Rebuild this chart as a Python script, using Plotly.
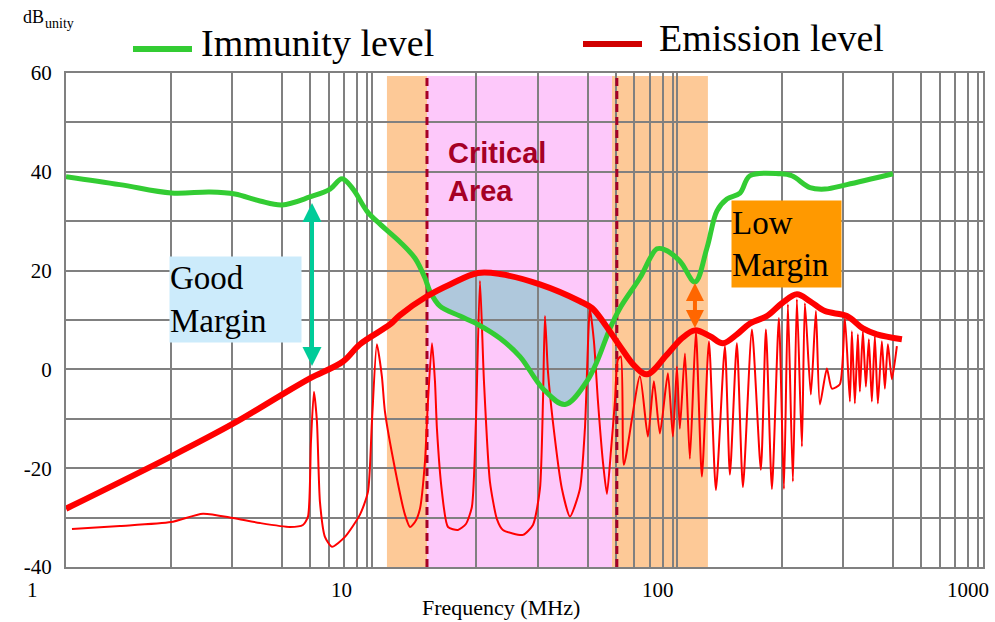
import numpy as np
import plotly.graph_objects as go

# ---------------- data (frequency in MHz, level in dB) ----------------
IMM_FREQ = [1.0, 1.5, 2.21, 2.96, 3.57, 4.31, 5.09, 6.28, 7.31, 8.0, 8.69, 9.66, 10.65,
            12.38, 13.86, 14.94, 15.51, 16.73, 19.45, 22.27, 26.28, 30.56, 36.34, 42.9,
            50.6, 54.6, 60.2, 64.9, 75.4, 85.8, 91.1, 102.0, 114.2, 125.0, 134.8, 145.3,
            160.3, 172.8, 216.6, 237.0, 271.6, 304.0, 358.7, 507.6]
IMM_DB = [39.0, 37.4, 35.7, 35.9, 35.5, 34.1, 33.3, 34.9, 36.5, 38.6, 36.5, 32.0, 29.4,
          25.8, 22.5, 18.5, 15.8, 12.8, 10.8, 9.1, 6.3, 2.6, -3.9, -7.1,
          -2.4, 1.6, 8.3, 12.4, 18.5, 24.4, 24.2, 21.9, 17.7, 24.6, 32.1, 34.5,
          35.7, 39.2, 39.6, 39.2, 36.8, 36.5, 37.4, 39.6]

ENV_FREQ = [1.0, 2.21, 3.52, 5.09, 6.28, 8.06, 9.16, 11.48, 12.38, 15.17, 18.04, 22.27,
            26.28, 35.5, 48.0, 52.6, 58.0, 64.9, 72.7, 79.5, 92.5, 103.5, 114.2, 127.9,
            141.0, 156.7, 172.8, 196.4, 219.9, 246.2, 271.6, 304.0, 358.7, 404.7, 449.8,
            542.9]
ENV_DB = [-28.2, -17.6, -11.0, -5.1, -1.8, 1.6, 5.1, 9.1, 11.0, 14.8, 17.2, 19.5,
          19.3, 17.2, 13.8, 12.4, 9.1, 4.7, 0.6, -1.0, 3.0, 6.3, 7.9, 6.7,
          5.3, 7.1, 9.3, 10.8, 13.4, 15.2, 13.8, 11.8, 10.8, 8.3, 7.1,
          6.1]

SPEC_FREQ = [1.046, 1.502, 2.205, 2.806, 3.518, 4.311, 5.404, 5.959, 6.189, 6.33, 6.474,
             6.622, 6.773, 7.033, 7.415, 8.177, 9.155, 9.724, 10.02, 10.40, 10.80, 11.05,
             11.92, 12.85, 13.35, 13.86, 14.39, 14.94, 15.28, 15.75, 16.11, 16.35, 16.98,
             17.77, 19.15, 20.34, 21.28, 21.93, 22.61, 23.30, 24.37, 25.69, 26.88, 31.25,
             33.70, 35.52, 36.34, 36.89, 37.73, 39.17, 41.93, 44.53, 48.00, 49.85, 51.76,
             53.35, 55.0, 57.09, 58.83, 60.63, 62.49, 63.91, 65.37, 66.86, 75.43, 80.10,
             83.80, 87.70, 93.13, 96.72, 99.68, 101.9, 105.9, 109.9, 115.0, 120.3, 126.9,
             133.7, 143.1, 148.6, 156.6, 163.9, 175.4, 187.6, 194.9, 203.9, 214.9, 223.2,
             230.0, 238.8, 246.1, 255.6, 261.4, 273.4, 284.0, 292.7, 308.5, 320.3, 340.2,
             353.3, 366.9, 372.4, 380.9, 389.6, 395.5, 404.6, 413.8, 423.2, 432.9, 442.8,
             452.9, 466.8, 477.5, 488.4, 503.4, 522.7]
SPEC_DB = [-32.3, -31.7, -30.9, -29.2, -30.1, -31.1, -31.9, -31.5, -29.8, -14.6, -4.5,
           -10.6, -26.8, -33.9, -35.9, -33.9, -29.4, -24.8, -10.6, 5.1, -1.4, -8.5,
           -20.1, -29.4, -31.9, -30.9, -28.2, -18.7, -6.5, 5.3, -2.4, -12.0, -24.8,
           -31.9, -32.5, -31.3, -27.8, -10.6, 17.9, -2.4, -22.7, -30.3, -32.5, -33.5,
           -31.5, -24.2, -6.5, 10.8, -0.4, -10.6, -24.2, -29.8, -24.2, -12.0, 12.2,
           5.7, -6.5, -18.7, -25.2, -16.6, -6.5, 2.0, 2.6, -19.3, -1.4, -13.6,
           -2.4, -13.0, -0.8, -13.6, 0.6, -12.0, 3.2, -18.1, 7.7, -21.7, 5.7,
           -24.4, 4.7, -21.3, 5.3, -23.8, 8.1, -20.3, 8.1, -24.2, 10.4, -24.2,
           13.2, -22.7, 14.2, -15.6, 13.4, -5.1, 11.8, -7.1, 0.2, -3.9, -3.0,
           10.4, -6.5, 7.7, -6.9, 7.1, -4.5, 7.7, -3.5, 6.1, -6.5, 6.7,
           -6.9, 5.7, -3.9, 5.1, -2.0, 4.7]

# frequency bands / markers (MHz)
ORANGE_BANDS = [(11.22, 15.17), (61.1, 125.9)]
PINK_BAND = (15.17, 61.1)
CRITICAL_LINES = [15.17, 63.4]
BAND_TOP_DB = 59.4

# margin arrows: (frequency, from dB, to dB)
GOOD_ARROW = (6.38, 0.4, 33.7)
LOW_ARROW = (114.2, 8.1, 17.5)

# axis ticks
X_TICK_VALUES = [1, 10, 100, 1000]
X_TICK_LABELS = ["1", "10", "100", "1000"]
GRID_IN_DECADE = [1.0, 2.2, 3.49, 5.09, 6.28, 7.24, 8.11, 8.95, 9.65]
Y_GRID = [-40, -30, -20, -10, 0, 10, 20, 30, 40, 50, 60]
Y_LABELS = ["-40", "", "-20", "", "0", "", "20", "", "40", "", "60"]

# ---------------- styling constants ----------------
W, H = 995, 622
L, R, T, B = 66, 12, 73, 55
PW, PH = W - L - R, H - T - B
SERIF = "Liberation Serif"
SANS = "Liberation Sans"
GRID = "#808080"


def px_x(p):
    return (p - L) / PW


def px_y(p):
    return (H - B - p) / PH


fig = go.Figure()

# thin spectrum
fig.add_trace(go.Scatter(x=SPEC_FREQ, y=SPEC_DB, mode="lines",
                         line=dict(color="#FF0000", width=2, shape="spline", smoothing=0.6),
                         name="Emission spectrum", hoverinfo="skip"))
# immunity level
fig.add_trace(go.Scatter(x=IMM_FREQ, y=IMM_DB, mode="lines",
                         line=dict(color="#33CC33", width=5, shape="spline", smoothing=1.0),
                         name="Immunity level"))
# emission envelope
fig.add_trace(go.Scatter(x=ENV_FREQ, y=ENV_DB, mode="lines",
                         line=dict(color="#FF0000", width=6, shape="spline", smoothing=1.0),
                         name="Emission level"))

shapes = []
for lo, hi in ORANGE_BANDS:
    shapes.append(dict(type="rect", xref="x", yref="y", x0=lo, x1=hi, y0=-40, y1=BAND_TOP_DB,
                       fillcolor="#FDC997", line=dict(width=0), layer="below"))
shapes.append(dict(type="rect", xref="x", yref="y", x0=PINK_BAND[0], x1=PINK_BAND[1], y0=-40,
                   y1=BAND_TOP_DB, fillcolor="#FDC8FA", line=dict(width=0), layer="below"))

# critical overlap area (emission envelope above immunity)
lf = np.linspace(np.log10(14.0), np.log10(66.0), 500)
r_i = np.interp(lf, np.log10(ENV_FREQ), ENV_DB)
g_i = np.interp(lf, np.log10(IMM_FREQ), IMM_DB)
idx = np.where(r_i > g_i)[0]
fx = 10 ** lf[idx]
pts = list(zip(fx, r_i[idx])) + list(zip(fx[::-1], g_i[idx][::-1]))
path = "M " + " L ".join(f"{x:.4f},{y:.3f}" for x, y in pts) + " Z"
shapes.append(dict(type="path", xref="x", yref="y", path=path, fillcolor="#AFC8DC",
                   line=dict(width=0), layer="below"))

for f in CRITICAL_LINES:
    shapes.append(dict(type="line", xref="x", yref="y", x0=f, x1=f, y0=-40, y1=BAND_TOP_DB,
                       line=dict(color="#A50026", width=3, dash="8px,5px"), layer="between"))

# legend samples
shapes.append(dict(type="line", xref="paper", yref="paper", x0=px_x(133), x1=px_x(192),
                   y0=px_y(49), y1=px_y(49), line=dict(color="#33CC33", width=6)))
shapes.append(dict(type="line", xref="paper", yref="paper", x0=px_x(583), x1=px_x(642),
                   y0=px_y(44), y1=px_y(44), line=dict(color="#D00000", width=6)))

ann = []
ann.append(dict(text="Immunity level", x=px_x(199), y=px_y(43), xref="paper", yref="paper",
                xanchor="left", yanchor="middle", showarrow=False,
                font=dict(family=SERIF, size=38, color="black")))
ann.append(dict(text="Emission level", x=px_x(657), y=px_y(38), xref="paper", yref="paper",
                xanchor="left", yanchor="middle", showarrow=False,
                font=dict(family=SERIF, size=38, color="black")))
ann.append(dict(text="dB", x=px_x(21), y=px_y(17), xref="paper", yref="paper",
                xanchor="left", yanchor="middle", showarrow=False,
                font=dict(family=SERIF, size=18, color="black")))
ann.append(dict(text="unity", x=px_x(43), y=px_y(23), xref="paper", yref="paper",
                xanchor="left", yanchor="middle", showarrow=False,
                font=dict(family=SERIF, size=14, color="black")))
ann.append(dict(text="Frequency (MHz)", x=px_x(501), y=px_y(607), xref="paper", yref="paper",
                xanchor="center", yanchor="middle", showarrow=False,
                font=dict(family=SERIF, size=22, color="black")))

# x tick labels (offset left as in the original)
x_shifts = [-34, -30, -19, -15]
for v, t, s in zip(X_TICK_VALUES, X_TICK_LABELS, x_shifts):
    ann.append(dict(text=t, x=np.log10(v), y=px_y(590), xref="x", yref="paper",
                    xanchor="center", yanchor="middle", xshift=s, showarrow=False,
                    font=dict(family=SERIF, size=21, color="black")))

# text boxes
ann.append(dict(text="Good<br>Margin", x=px_x(169), y=px_y(256), xref="paper", yref="paper",
                xanchor="left", yanchor="top", width=131, height=85, align="left",
                bgcolor="#CCEBFB", borderpad=0, showarrow=False,
                font=dict(family=SERIF, size=33, color="black")))
ann.append(dict(text="Low<br>Margin", x=px_x(731), y=px_y(200), xref="paper", yref="paper",
                xanchor="left", yanchor="top", width=109, height=86, align="left",
                bgcolor="#FF9900", borderpad=0, showarrow=False,
                font=dict(family=SERIF, size=33, color="black")))
ann.append(dict(text="<b>Critical<br>Area</b>", x=px_x(446), y=px_y(172), xref="paper",
                yref="paper", xanchor="left", yanchor="middle", align="left", showarrow=False,
                font=dict(family=SANS, size=29, color="#A50026")))

# margin arrows
for (f, y0, y1), col, size in [(GOOD_ARROW, "#00CC99", 0.95), (LOW_ARROW, "#FF6600", 0.9)]:
    ann.append(dict(x=np.log10(f), y=y1, ax=np.log10(f), ay=y0, xref="x", yref="y",
                    axref="x", ayref="y", text="", showarrow=True, arrowside="end+start",
                    arrowhead=2, startarrowhead=2, arrowsize=size, startarrowsize=size,
                    arrowwidth=4, arrowcolor=col, standoff=0, startstandoff=0))

grid_vals = [g * 10 ** k for k in range(3) for g in GRID_IN_DECADE] + [1000]

fig.update_layout(
    width=W, height=H, margin=dict(l=L, r=R, t=T, b=B, autoexpand=False),
    plot_bgcolor="white", paper_bgcolor="white", showlegend=False,
    shapes=shapes, annotations=ann,
    xaxis=dict(type="log", range=[0, 3], tickmode="array", tickvals=grid_vals,
               showticklabels=False, ticks="", showgrid=True, gridcolor=GRID, gridwidth=2,
               showline=True, linecolor=GRID, linewidth=2, mirror=True, zeroline=False),
    yaxis=dict(range=[-40, 60], tickmode="array", tickvals=Y_GRID, ticktext=Y_LABELS,
               ticks="", showgrid=True, gridcolor=GRID, gridwidth=2, zeroline=False,
               showline=True, linecolor=GRID, linewidth=2, mirror=True,
               tickfont=dict(family=SERIF, size=21, color="black"), ticklabelstandoff=8),
)

fig.write_html("out.html", config={"displayModeBar": False},
               post_script="document.body.style.margin='0';document.body.style.overflow='hidden';")
